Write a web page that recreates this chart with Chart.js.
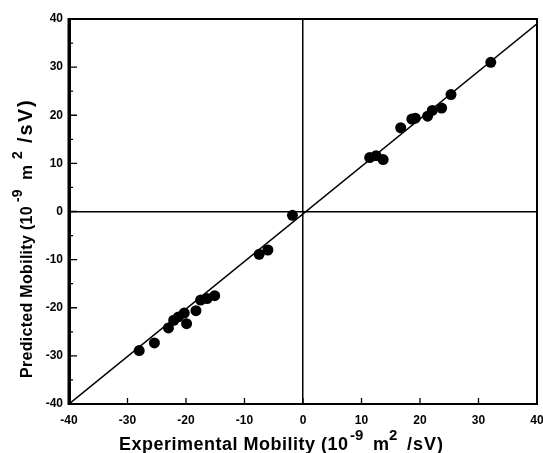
<!DOCTYPE html>
<html><head><meta charset="utf-8">
<script src="https://cdn.jsdelivr.net/npm/chart.js@4"></script>
<style>html,body{margin:0;padding:0;background:#fff}#w{width:543px;height:453px;position:relative}</style>
</head><body><div id="w"><canvas id="c"></canvas></div>
<script>
const experimental = [32.1, 25.3, 23.7, 22.1, 21.3, 19.2, 18.6, 16.7, 13.7, 12.5, 11.4, -1.8, -6.0, -7.5, -15.1, -16.4, -17.5, -18.3, -19.9, -20.3, -21.3, -22.1, -23.0, -25.4, -28.0];
const predicted    = [31.0, 24.3, 21.5, 21.0, 19.8, 19.4, 19.2, 17.4, 10.8, 11.6, 11.2, -0.8, -8.0, -8.9, -17.5, -18.1, -18.4, -20.6, -23.3, -21.1, -21.9, -22.6, -24.2, -27.3, -28.9];
const fitX = [-40, 40];
const fitY = [-40, 39];
const xTicks = [-40, -30, -20, -10, 0, 10, 20, 30, 40];
const yTicks = [-40, -30, -20, -10, 0, 10, 20, 30, 40];
const yMinorTicks = [-35, -25, -15, -5, 5, 15, 25, 35];

const FONT = "'Liberation Sans', Arial, sans-serif";

const framePlugin = {
  id: 'frame',
  afterDraw(chart) {
    const ctx = chart.ctx, a = chart.chartArea;
    const xs = chart.scales.x, ys = chart.scales.y;
    ctx.save();
    ctx.strokeStyle = '#000';
    ctx.lineWidth = 2;
    ctx.strokeRect(a.left, a.top, a.right - a.left, a.bottom - a.top);
    ctx.lineWidth = 3;
    ctx.beginPath(); ctx.moveTo(a.left, a.top - 1); ctx.lineTo(a.left, a.bottom + 1); ctx.stroke();
    ctx.lineWidth = 1.3;
    ctx.beginPath();
    yTicks.forEach(v => { const p = ys.getPixelForValue(v); ctx.moveTo(a.left, p); ctx.lineTo(a.left + 8, p); });
    yMinorTicks.forEach(v => { const p = ys.getPixelForValue(v); ctx.moveTo(a.left, p); ctx.lineTo(a.left + 4, p); });
    xTicks.forEach(v => { const p = xs.getPixelForValue(v); ctx.moveTo(p, a.bottom); ctx.lineTo(p, a.bottom - 6); });
    ctx.stroke();
    // pieces: [text, offsetAlongBaseline, size, rise, letterSpacing]
    const drawPieces = (pieces) => {
      pieces.forEach(([t, x, size, rise, ls]) => {
        ctx.font = 'bold ' + size + 'px ' + FONT;
        ctx.letterSpacing = (ls || 0) + 'px';
        ctx.fillText(t, x, -rise);
      });
      ctx.letterSpacing = '0px';
    };
    ctx.fillStyle = '#000';
    ctx.textBaseline = 'alphabetic';
    ctx.textAlign = 'left';
    ctx.save();
    ctx.translate(119, 450);
    drawPieces([
      ['Experimental Mobility (10', 0, 18, 0, 0.5],
      ['-9', 231, 15, 10, 0],
      ['m', 254, 18, 0, 0],
      ['2', 270, 15, 10, 0],
      ['/sV)', 288, 18, 0, 1]
    ]);
    ctx.restore();
    ctx.translate(32, 378);
    ctx.rotate(-Math.PI / 2);
    drawPieces([
      ['Predicted Mobility (10', 0, 16, 0, 0.3],
      ['-9', 176, 14, 10, 0],
      ['m', 198, 17, 0, 0],
      ['2', 219, 14, 10, 0],
      ['/sV)', 235, 20, 0, 2]
    ]);
    ctx.restore();
  }
};

const points = experimental.map((x, i) => ({ x: x, y: predicted[i] }));
const fit = fitX.map((x, i) => ({ x: x, y: fitY[i] }));

new Chart(document.getElementById('c'), {
  type: 'scatter',
  data: {
    datasets: [
      { data: points, backgroundColor: '#000', borderWidth: 0, pointRadius: 5.5, order: 1 },
      { data: fit, showLine: true, borderColor: '#000', borderWidth: 1.5, pointRadius: 0, order: 2 }
    ]
  },
  options: {
    responsive: true, maintainAspectRatio: false, animation: false,
    layout: { padding: { top: 19, right: 6, left: 0, bottom: 0 } },
    plugins: { legend: { display: false }, tooltip: { enabled: false } },
    scales: {
      x: {
        type: 'linear', min: -40, max: 40,
        afterBuildTicks: s => { s.ticks = xTicks.map(v => ({ value: v })); },
        afterFit: s => { s.height = 49; s.paddingLeft = 0; s.paddingRight = 0; },
        grid: { drawTicks: false, color: c => (c.tick && c.tick.value === 0 ? '#000' : 'rgba(0,0,0,0)'), lineWidth: 1.5 },
        border: { display: true, color: '#000', width: 2 },
        ticks: { color: '#000', padding: 9, font: { family: FONT, size: 12, weight: 'bold' }, maxRotation: 0 }
      },
      y: {
        type: 'linear', min: -40, max: 40,
        afterBuildTicks: s => { s.ticks = yTicks.map(v => ({ value: v })); },
        afterFit: s => { s.width = 69; s.paddingTop = 0; s.paddingBottom = 0; },
        grid: { drawTicks: false, color: c => (c.tick && c.tick.value === 0 ? '#000' : 'rgba(0,0,0,0)'), lineWidth: 1.5 },
        border: { display: true, color: '#000', width: 3 },
        ticks: { color: '#000', padding: 6, font: { family: FONT, size: 12, weight: 'bold' } }
      }
    }
  },
  plugins: [framePlugin]
});
</script></body></html>
